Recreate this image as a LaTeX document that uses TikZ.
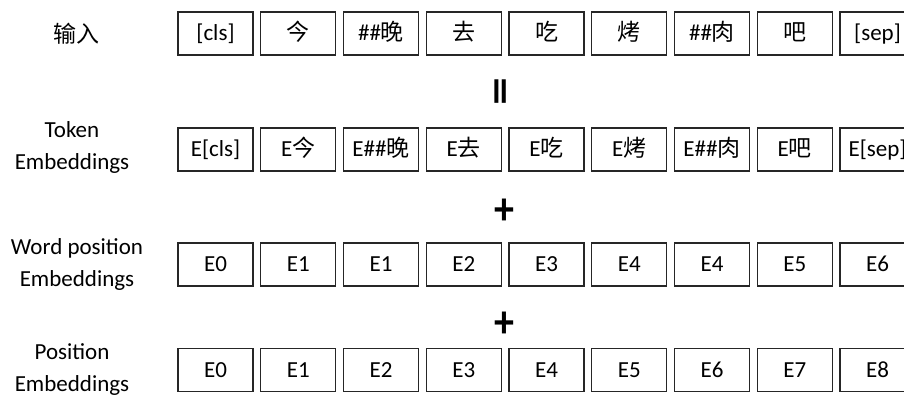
\documentclass[tikz,border=0pt]{standalone}
\usepackage{fontspec}
\setmainfont{Carlito}
\newfontfamily\cjk{Noto Sans CJK SC}
\begin{document}
\begin{tikzpicture}[x=1pt,y=-1pt,
  tok/.style={draw=black!85, line width=1.2pt, minimum width=75pt, minimum height=43pt, inner sep=0pt, text height=17pt, text depth=3pt, font=\fontsize{23}{26}\selectfont},
  lbl/.style={align=center, font=\fontsize{23}{32}\selectfont},
  op/.style={inner sep=0pt, font=\fontsize{40}{40}\selectfont\bfseries}]
\clip (0,0) rectangle (904,394);
\foreach \t [count=\i] in {[cls],{\cjk 今},{\#\#\cjk 晚},{\cjk 去},{\cjk 吃},{\cjk 烤},{\#\#\cjk 肉},{\cjk 吧},[sep]}
  \node[tok] (a\i) at ({215.5+(\i-1)*82.75},33.5) {\t};
\foreach \t [count=\i] in {E[cls],{E\cjk 今},{E\#\#\cjk 晚},{E\cjk 去},{E\cjk 吃},{E\cjk 烤},{E\#\#\cjk 肉},{E\cjk 吧},E[sep]}
  \node[tok] (b\i) at ({215.5+(\i-1)*82.75},149.5) {\t};
\foreach \t [count=\i] in {E0,E1,E1,E2,E3,E4,E4,E5,E6}
  \node[tok] (c\i) at ({215.5+(\i-1)*82.75},264.5) {\t};
\foreach \t [count=\i] in {E0,E1,E2,E3,E4,E5,E6,E7,E8}
  \node[tok] (d\i) at ({215.5+(\i-1)*82.75},370) {\t};
\node[lbl] (la) at (76,34) {\cjk 输入};
\node[lbl] (lb) at (72,147) {Token\\Embeddings};
\node[lbl] (lc) at (77,264) {Word position\\Embeddings};
\node[lbl] (ld) at (72,370) {Position\\Embeddings};
\node[op, rotate=90, xscale=1.4, yscale=1.1] (eq) at (505,92) {=};
\node[op, yscale=1.15] (p1) at (504,212) {+};
\node[op, yscale=1.15] (p2) at (504,325) {+};
\end{tikzpicture}
\end{document}
